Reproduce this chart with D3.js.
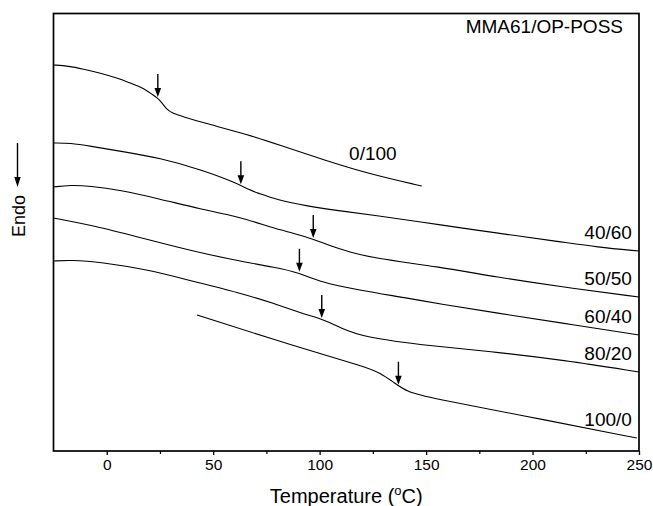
<!DOCTYPE html>
<html>
<head>
<meta charset="utf-8">
<script src="https://cdn.jsdelivr.net/npm/d3@7/dist/d3.min.js"></script>
<style>
  body { margin: 0; background: #fff; }
  text { font-family: "Liberation Sans", Arial, Helvetica, sans-serif; fill: #000; }
</style>
</head>
<body>
<svg id="chart" width="653" height="506"></svg>
<script>
// DSC traces, heat flow in arbitrary units
const seriesNames = ['0/100', '40/60', '50/50', '60/40', '80/20', '100/0'];
const tgValues = [24, 63, 97, 90.5, 101, 137];

const temps0100 = [-25, -18, -11, -3, 5, 11, 16, 19, 24, 26, 28, 30.5, 36.5, 44, 67, 81, 102, 125, 148];
const heat0100 = [38.6, 38.5, 38.2, 37.8, 37.3, 36.8, 36.4, 36.0, 35.3, 34.8, 34.2, 33.8, 33.4, 32.9, 31.6, 30.6, 29.1, 27.6, 26.5];

const temps4060 = [-25, -17, -8, 6, 25, 45, 61, 67, 71, 80, 94, 110, 125, 157, 183, 214, 230, 250];
const heat4060 = [30.8, 30.8, 30.5, 30.0, 29.3, 28.1, 26.8, 26.1, 25.8, 25.1, 24.5, 24.0, 23.6, 22.6, 21.8, 20.9, 20.4, 20.0];

const temps5050 = [-25, -17, -8, 6, 25, 44, 62.6, 78, 87.5, 97, 105, 114, 125, 156.5, 183, 214, 250];
const heat5050 = [26.4, 26.6, 26.5, 26.1, 25.2, 24.2, 23.4, 22.3, 21.8, 21.2, 20.5, 19.9, 19.3, 18.4, 17.4, 16.4, 15.4];

const temps6040 = [-25, -3, 20, 44, 67, 78, 91, 100, 118, 141, 156.5, 183, 214, 250];
const heat6040 = [23.3, 22.4, 21.1, 19.8, 18.8, 18.4, 17.8, 16.9, 16.1, 15.3, 14.7, 13.8, 12.8, 11.6];

const temps8020 = [-25, -17, -3, 20, 38, 62.6, 78, 94, 101, 110, 120, 152, 183, 214, 250];
const heat8020 = [19.0, 19.1, 18.9, 18.1, 17.1, 15.8, 14.8, 13.6, 13.2, 12.3, 11.4, 10.5, 9.9, 9.1, 7.9];

const temps1000 = [42.4, 89.4, 122, 128.4, 134.6, 141, 152, 194, 249];
const heat1000 = [13.6, 10.4, 8.4, 7.8, 6.9, 5.9, 5.3, 3.6, 1.3];

const xTicks = [0, 50, 100, 150, 200, 250];
const xMinorTicks = [25, 75, 125, 175, 225];

const allTemps = [temps0100, temps4060, temps5050, temps6040, temps8020, temps1000];
const allHeat = [heat0100, heat4060, heat5050, heat6040, heat8020, heat1000];

const svg = d3.select('#chart');

const x = d3.scaleLinear()
  .domain([-25, 250])
  .range([53.5, 639]);

const y = d3.scaleLinear()
  .domain([0, 43.75])
  .range([451, 13.5]);

const series = seriesNames.map((name, i) => ({
  name,
  tg: tgValues[i],
  points: allTemps[i].map((t, j) => [t, allHeat[i][j]])
}));

const line = d3.line()
  .x(d => x(d[0]))
  .y(d => y(d[1]))
  .curve(d3.curveBasis);

// axes
svg.append('g')
  .attr('class', 'xaxis')
  .attr('transform', `translate(0,${y.range()[0]})`)
  .call(d3.axisBottom(x).tickValues(xTicks).tickSize(4).tickPadding(4))
  .call(g => g.select('.domain').remove())
  .call(g => g.selectAll('text').style('font-size', '15.5px').attr('font-family', null))
  .call(g => g.selectAll('line').attr('stroke-width', 1.3));

svg.append('g')
  .attr('transform', `translate(0,${y.range()[0]})`)
  .call(d3.axisBottom(x).tickValues(xMinorTicks).tickSize(3).tickFormat(''))
  .call(g => g.select('.domain').remove())
  .call(g => g.selectAll('line').attr('stroke-width', 1.2));

svg.append('rect')
  .attr('x', x.range()[0])
  .attr('y', y.range()[1])
  .attr('width', x.range()[1] - x.range()[0])
  .attr('height', y.range()[0] - y.range()[1])
  .attr('fill', 'none')
  .attr('stroke', '#000')
  .attr('stroke-width', 1.7);

// curves
svg.selectAll('.trace')
  .data(series)
  .enter()
  .append('path')
  .attr('class', 'trace')
  .attr('d', d => line(d.points))
  .attr('fill', 'none')
  .attr('stroke', '#000')
  .attr('stroke-width', 1.1);

// Tg arrows
const curveAt = (d, t) => d3.scaleLinear()
  .domain(d.points.map(p => p[0]))
  .range(d.points.map(p => p[1]))(t);

const arrows = svg.selectAll('.tg')
  .data(series)
  .enter()
  .append('g')
  .attr('class', 'tg')
  .attr('transform', d => `translate(${x(d.tg)},${y(curveAt(d, d.tg)) - 1})`);

arrows.append('line')
  .attr('x1', 0).attr('x2', 0)
  .attr('y1', -23).attr('y2', -6)
  .attr('stroke', '#000')
  .attr('stroke-width', 1.4);

arrows.append('path')
  .attr('d', 'M0,0L-3.3,-9L3.3,-9Z')
  .attr('fill', '#000');

// series labels
svg.selectAll('.label')
  .data(series)
  .enter()
  .append('text')
  .attr('class', 'label')
  .style('font-size', '19px')
  .attr('text-anchor', (d, i) => i === 0 ? 'middle' : 'end')
  .attr('x', (d, i) => i === 0 ? x(125) : x(249) - 5)
  .attr('y', (d, i) => {
    const last = d.points[d.points.length - 1];
    return i === 0 ? y(curveAt(d, 125)) - 15 : y(last[1]) - 12;
  })
  .text(d => d.name);

svg.append('text')
  .attr('x', 623)
  .attr('y', 33)
  .attr('text-anchor', 'end')
  .style('font-size', '19px')
  .text('MMA61/OP-POSS');

// x title
const title = svg.append('text')
  .attr('x', (x.range()[0] + x.range()[1]) / 2)
  .attr('y', 503)
  .attr('text-anchor', 'middle')
  .style('font-size', '20px');
title.append('tspan').text('Temperature (');
title.append('tspan').attr('dy', -8).style('font-size', '13px').text('o');
title.append('tspan').attr('dy', 8).text('C)');

// Endo label with arrow
svg.append('text')
  .attr('transform', 'translate(25,216) rotate(-90)')
  .attr('text-anchor', 'middle')
  .style('font-size', '18px')
  .text('Endo');

svg.append('line')
  .attr('x1', 17.5).attr('x2', 17.5)
  .attr('y1', 143).attr('y2', 178)
  .attr('stroke', '#000')
  .attr('stroke-width', 1.4);

svg.append('path')
  .attr('d', 'M17.5,187L14.3,177L20.7,177Z')
  .attr('fill', '#000');
</script>
</body>
</html>
